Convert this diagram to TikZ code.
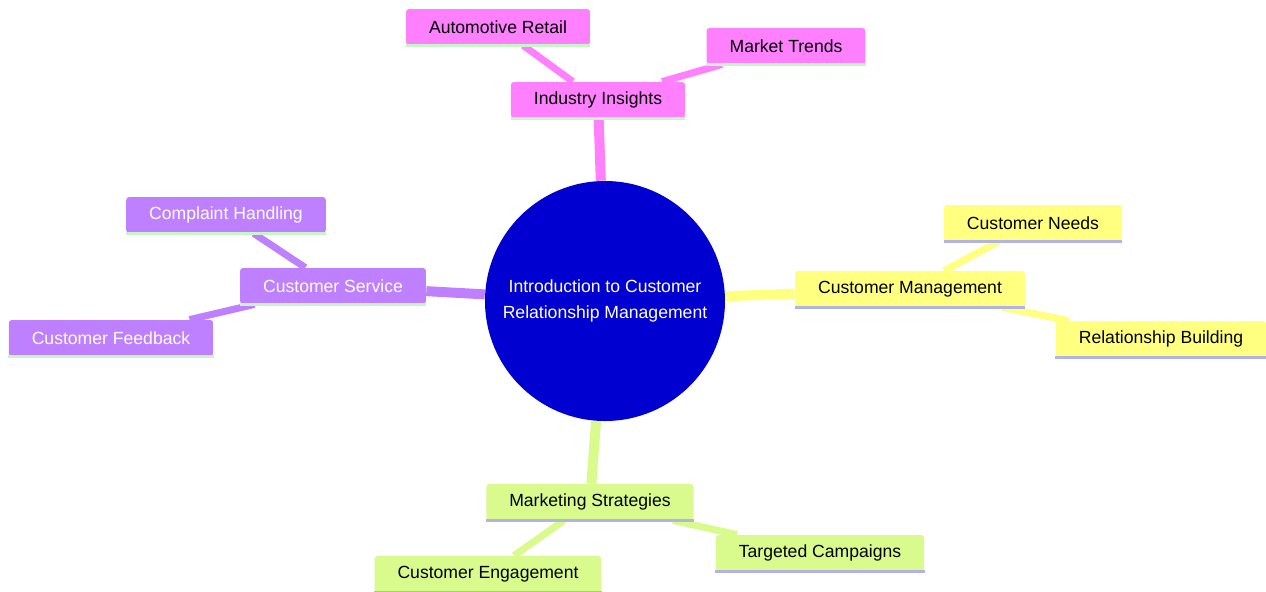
\documentclass[tikz,border=0pt]{standalone}
\usepackage{fontspec}
\setmainfont{Liberation Sans}
\usetikzlibrary{backgrounds}
\usepackage{xcolor}

\definecolor{hubblue}{RGB}{0,0,208}
\definecolor{insightpink}{RGB}{255,128,255}
\definecolor{managelemon}{RGB}{255,255,128}
\definecolor{servicelilac}{RGB}{190,128,255}
\definecolor{marketlime}{RGB}{217,250,140}
\definecolor{lavenderline}{RGB}{178,178,232}
\definecolor{mintline}{RGB}{200,245,200}

\begin{document}
\begin{tikzpicture}[x=0.5pt, y=-0.5pt,
  font=\fontsize{8.8}{13}\selectfont,
  box/.style={rectangle, rounded corners=1.5pt, minimum height=18pt, inner xsep=11.5pt, inner ysep=0pt},
  pinkbox/.style={box, fill=insightpink, text=black,
    append after command={(\tikzlastnode.south west) edge[draw=mintline, line width=1.4pt] (\tikzlastnode.south east)}},
  lemonbox/.style={box, fill=managelemon, text=black,
    append after command={(\tikzlastnode.south west) edge[draw=lavenderline, line width=1.4pt] (\tikzlastnode.south east)}},
  lilacbox/.style={box, fill=servicelilac, text=white,
    append after command={(\tikzlastnode.south west) edge[draw=mintline, line width=1.4pt] (\tikzlastnode.south east)}},
  limebox/.style={box, fill=marketlime, text=black,
    append after command={(\tikzlastnode.south west) edge[draw=lavenderline, line width=1.4pt] (\tikzlastnode.south east)}},
  trunk/.style={line width=5pt},
  twig/.style={line width=3.5pt}
]
\useasboundingbox (0,0) rectangle (1266,591);

% Central node
\node[circle, fill=hubblue, text=white, minimum size=120pt, inner sep=0pt, align=center] (hub) at (605,301)
  {Introduction to Customer\\Relationship Management};

% Industry Insights branch
\node[pinkbox] (insights) at (598,100) {Industry Insights};
\node[pinkbox] (retail) at (498,27) {Automotive Retail};
\node[pinkbox] (trends) at (786,46) {Market Trends};

% Customer Management branch
\node[lemonbox] (manage) at (910,289) {Customer Management};
\node[lemonbox] (needs) at (1033,223) {Customer Needs};
\node[lemonbox] (relation) at (1161,339) {Relationship Building};

% Customer Service branch
\node[lilacbox] (service) at (333,286) {Customer Service};
\node[lilacbox] (complaint) at (226,215) {Complaint Handling};
\node[lilacbox] (feedback) at (111,338) {Customer Feedback};

% Marketing Strategies branch
\node[limebox] (marketing) at (590,502) {Marketing Strategies};
\node[limebox] (engage) at (488,574) {Customer Engagement};
\node[limebox] (campaign) at (820,553) {Targeted Campaigns};

% Connectors
\begin{scope}[on background layer]
  \draw[trunk, insightpink] (hub) -- (insights);
  \draw[trunk, managelemon] (hub) -- (manage);
  \draw[trunk, servicelilac] (hub) -- (service);
  \draw[trunk, marketlime] (hub) -- (marketing);
  \foreach \j in {retail, trends} {
    \draw[twig, insightpink] (insights) -- (\j);
  }
  \foreach \j in {needs, relation} {
    \draw[twig, managelemon] (manage) -- (\j);
  }
  \foreach \j in {complaint, feedback} {
    \draw[twig, servicelilac] (service) -- (\j);
  }
  \foreach \j in {engage, campaign} {
    \draw[twig, marketlime] (marketing) -- (\j);
  }
\end{scope}
\end{tikzpicture}
\end{document}
